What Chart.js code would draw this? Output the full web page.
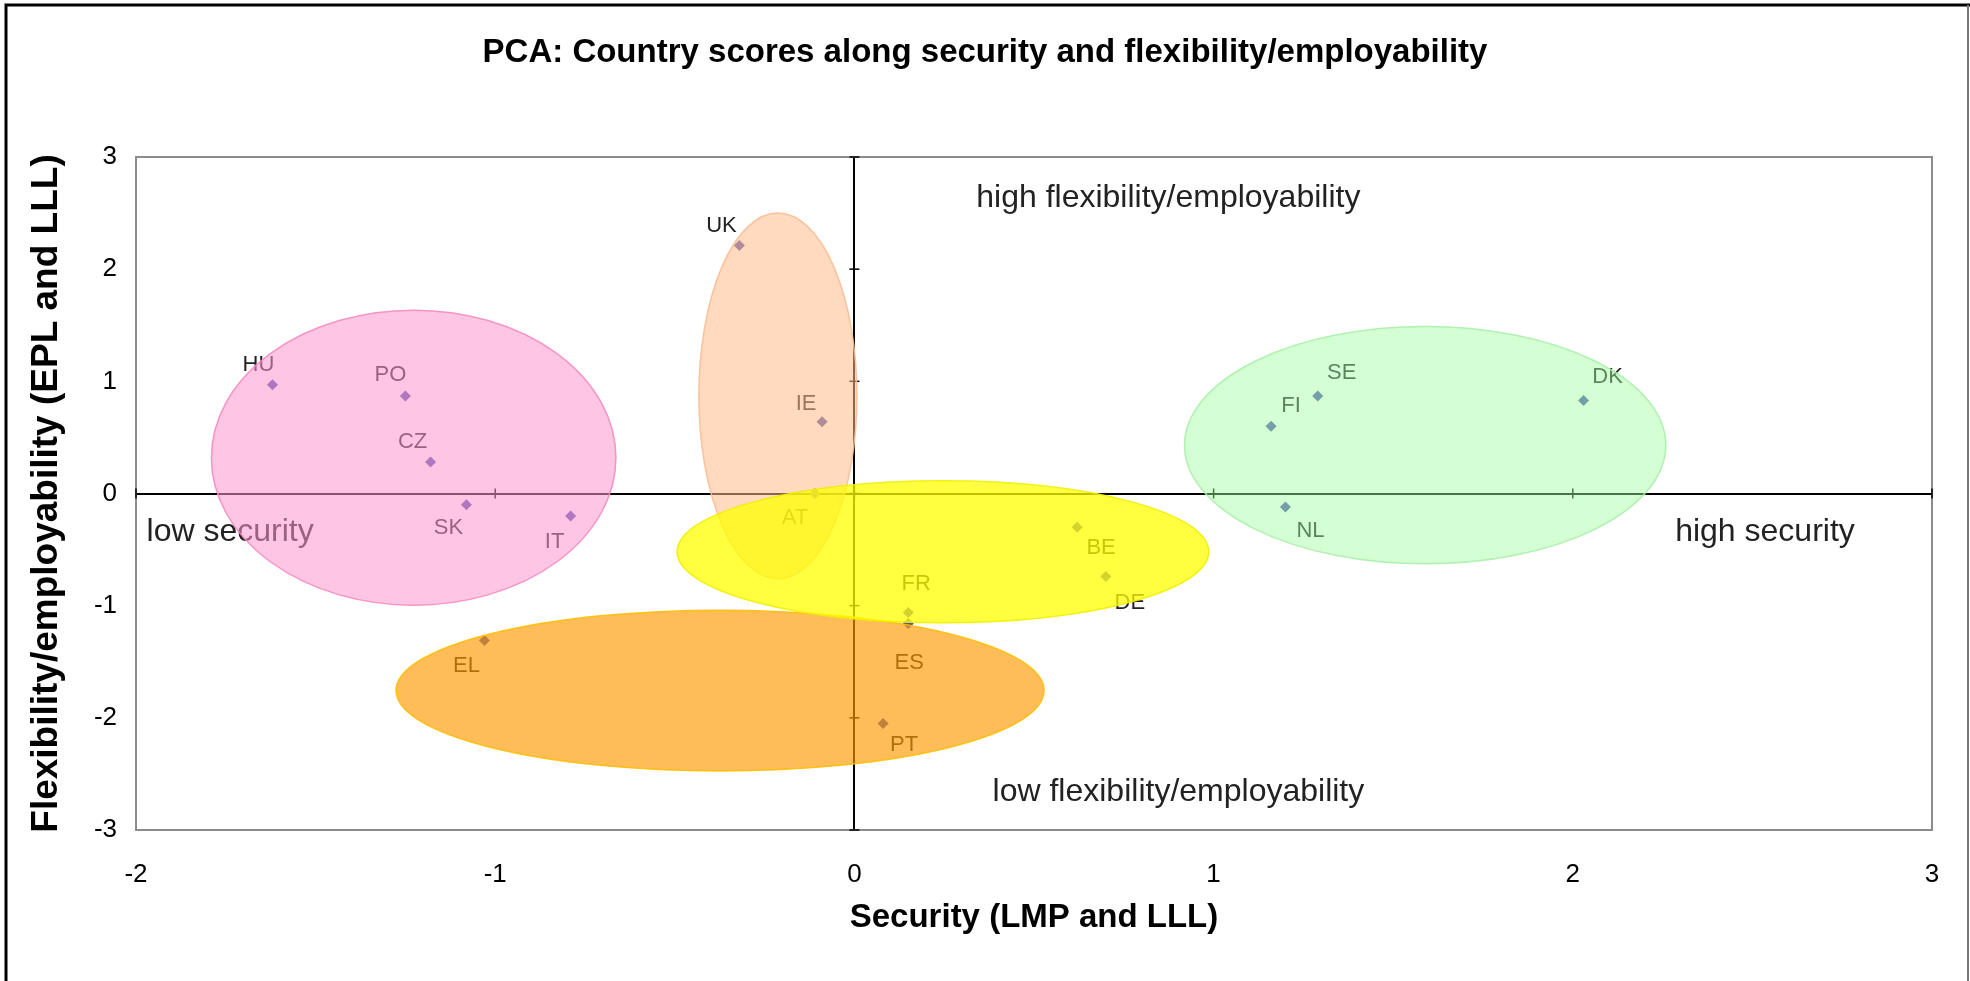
<!DOCTYPE html>
<html>
<head>
<meta charset="utf-8">
<title>PCA country scores</title>
<script src="https://cdn.jsdelivr.net/npm/chart.js@4"></script>
<style>
    html, body { margin: 0; padding: 0; background: #fff; }
    #wrap { width: 1970px; height: 981px; position: relative; }
</style>
</head>
<body>
<div id="wrap"><canvas id="pcaChart" width="1970" height="981"></canvas></div>
<script>
// Country scores
const countries = ["HU", "PO", "CZ", "SK", "IT", "UK", "IE", "AT", "BE", "DE", "FR", "ES", "EL", "PT", "FI", "SE", "DK", "NL"];
const securityScores = [-1.62, -1.25, -1.18, -1.08, -0.79, -0.32, -0.09, -0.11, 0.62, 0.70, 0.15, 0.15, -1.03, 0.08, 1.16, 1.29, 2.03, 1.20];
const flexibilityScores = [0.97, 0.87, 0.28, -0.10, -0.20, 2.21, 0.64, 0.00, -0.30, -0.74, -1.06, -1.16, -1.31, -2.05, 0.60, 0.87, 0.83, -0.12];

// Axis tick values
const xTickValues = [-2, -1, 0, 1, 2, 3];
const yTickValues = [-3, -2, -1, 0, 1, 2, 3];

// Cluster ellipses (data units)
const clusterNames = ["east", "liberal", "nordic", "continental", "south"];
const clusterCenterX = [-1.227, -0.213, 1.589, -0.374, 0.2465];
const clusterCenterY = [0.319, 0.87, 0.431, -1.757, -0.52];
const clusterRadiusX = [0.563, 0.22, 0.67, 0.902, 0.74];
const clusterRadiusY = [1.315, 1.63, 1.058, 0.717, 0.633];

// Quadrant captions
const captionTexts = ["high flexibility/employability", "low flexibility/employability", "low security", "high security"];
const captionX = [0.874, 0.902, -1.738, 2.535];
const captionY = [2.63, -2.664, -0.347, -0.347];

const chartTitle = "PCA: Country scores along security and flexibility/employability";

const FONT = "'Liberation Sans', Arial, sans-serif";

// label offsets in pixels, relative to the point
const labelOffsets = {
    HU: [-14, -20], PO: [-15, -21], CZ: [-18, -20], SK: [-18, 23], IT: [-16, 26],
    UK: [-18, -20], IE: [-16, -18], AT: [-20, 24], BE: [24, 21], DE: [24, 26],
    FR: [8, -28], ES: [1, 39], EL: [-18, 25], PT: [21, 21], FI: [20, -20],
    SE: [24, -23], DK: [24, -23], NL: [25, 24]
};

const clusterColors = {
    east: "rgba(255,150,205,0.55)",
    liberal: "rgba(255,187,136,0.55)",
    nordic: "rgba(160,255,160,0.45)",
    continental: "rgba(255,153,0,0.65)",
    south: "rgba(255,255,0,0.75)"
};
const clusterEdges = {
    east: "rgba(245,140,190,0.9)",
    liberal: "rgba(250,190,150,0.9)",
    nordic: "rgba(170,240,170,0.9)",
    continental: "rgba(255,190,0,0.9)",
    south: "rgba(240,240,0,0.9)"
};

const points = countries.map((c, i) => ({ x: securityScores[i], y: flexibilityScores[i], label: c }));

// plot frame, tick crosses on the zero axes, outer frame and title
const framePlugin = {
    id: "frame",
    beforeDatasetsDraw(chart) {
        const { ctx, chartArea: a, scales: { x, y } } = chart;
        ctx.save();
        ctx.strokeStyle = "#8c8c8c";
        ctx.lineWidth = 2;
        ctx.strokeRect(a.left, a.top, a.right - a.left, a.bottom - a.top);

        ctx.strokeStyle = "#000";
        ctx.lineWidth = 1.5;
        const x0 = x.getPixelForValue(0);
        const y0 = y.getPixelForValue(0);
        xTickValues.forEach(v => {
            const px = x.getPixelForValue(v);
            ctx.beginPath();
            ctx.moveTo(px, y0 - 5);
            ctx.lineTo(px, y0 + 5);
            ctx.stroke();
        });
        yTickValues.forEach(v => {
            const py = y.getPixelForValue(v);
            ctx.beginPath();
            ctx.moveTo(x0 - 5, py);
            ctx.lineTo(x0 + 5, py);
            ctx.stroke();
        });
        ctx.restore();
    },
    afterDraw(chart) {
        const { ctx, width, height } = chart;
        ctx.save();
        ctx.fillStyle = "#000";
        ctx.textAlign = "center";
        ctx.textBaseline = "middle";
        ctx.font = "bold 33px " + FONT;
        ctx.fillText(chartTitle, 985, 53);

        ctx.strokeStyle = "#000";
        ctx.lineWidth = 3;
        ctx.beginPath();
        ctx.moveTo(6, height);
        ctx.lineTo(6, 5);
        ctx.lineTo(width, 5);
        ctx.stroke();
        ctx.strokeStyle = "#777";
        ctx.lineWidth = 2;
        ctx.beginPath();
        ctx.moveTo(width - 2, 5);
        ctx.lineTo(width - 2, height);
        ctx.stroke();
        ctx.restore();
    }
};

// country codes and quadrant captions
const labelPlugin = {
    id: "labels",
    afterDatasetsDraw(chart) {
        const { ctx, scales: { x, y } } = chart;
        const meta = chart.getDatasetMeta(0);
        ctx.save();
        ctx.fillStyle = "#222";
        ctx.textAlign = "center";
        ctx.textBaseline = "middle";
        ctx.font = "22px " + FONT;
        meta.data.forEach((pt, i) => {
            const off = labelOffsets[countries[i]] || [0, -18];
            ctx.fillText(countries[i], pt.x + off[0], pt.y + off[1]);
        });
        ctx.font = "32px " + FONT;
        captionTexts.forEach((t, i) => {
            ctx.fillText(t, x.getPixelForValue(captionX[i]), y.getPixelForValue(captionY[i]));
        });
        ctx.restore();
    }
};

// translucent cluster ellipses on top
const clusterPlugin = {
    id: "clusters",
    afterDatasetsDraw(chart) {
        const { ctx, scales: { x, y } } = chart;
        ctx.save();
        clusterNames.forEach((name, i) => {
            const cx = x.getPixelForValue(clusterCenterX[i]);
            const cy = y.getPixelForValue(clusterCenterY[i]);
            const rx = Math.abs(x.getPixelForValue(clusterCenterX[i] + clusterRadiusX[i]) - cx);
            const ry = Math.abs(y.getPixelForValue(clusterCenterY[i] + clusterRadiusY[i]) - cy);
            ctx.beginPath();
            ctx.ellipse(cx, cy, rx, ry, 0, 0, Math.PI * 2);
            ctx.fillStyle = clusterColors[name];
            ctx.fill();
            ctx.strokeStyle = clusterEdges[name];
            ctx.lineWidth = 1.5;
            ctx.stroke();
        });
        ctx.restore();
    }
};

const zeroLine = ctx => (ctx.tick && ctx.tick.value === 0) ? "#000" : "rgba(0,0,0,0)";

new Chart(document.getElementById("pcaChart").getContext("2d"), {
    type: "scatter",
    data: {
        datasets: [{
            data: points,
            pointStyle: "rectRot",
            pointRadius: 5.5,
            pointBackgroundColor: "#5050b0",
            pointBorderWidth: 0
        }]
    },
    options: {
        responsive: false,
        animation: false,
        events: [],
        layout: { padding: { top: 157, left: 0, right: 38, bottom: 0 } },
        plugins: {
            legend: { display: false },
            tooltip: { enabled: false },
            title: { display: false }
        },
        scales: {
            x: {
                type: "linear",
                min: -2,
                max: 3,
                afterBuildTicks: s => { s.ticks = xTickValues.map(v => ({ value: v })); },
                afterFit: s => { s.height = 151; },
                ticks: { color: "#000", padding: 29, font: { family: FONT, size: 26 } },
                grid: { color: zeroLine, lineWidth: 2, drawTicks: false },
                border: { display: false },
                title: {
                    display: true,
                    text: "Security (LMP and LLL)",
                    color: "#000",
                    font: { family: FONT, size: 33, weight: "bold" },
                    padding: { top: 0, bottom: 43 }
                }
            },
            y: {
                type: "linear",
                min: -3,
                max: 3,
                afterBuildTicks: s => { s.ticks = yTickValues.map(v => ({ value: v })); },
                afterFit: s => { s.width = 136; },
                ticks: { color: "#000", padding: 19, font: { family: FONT, size: 26 } },
                grid: { color: zeroLine, lineWidth: 2, drawTicks: false },
                border: { display: false },
                title: {
                    display: true,
                    text: "Flexibility/employability (EPL and LLL)",
                    color: "#000",
                    font: { family: FONT, size: 37, weight: "bold" },
                    padding: { top: 25, bottom: 0 }
                }
            }
        }
    },
    plugins: [framePlugin, labelPlugin, clusterPlugin]
});
</script>
</body>
</html>
